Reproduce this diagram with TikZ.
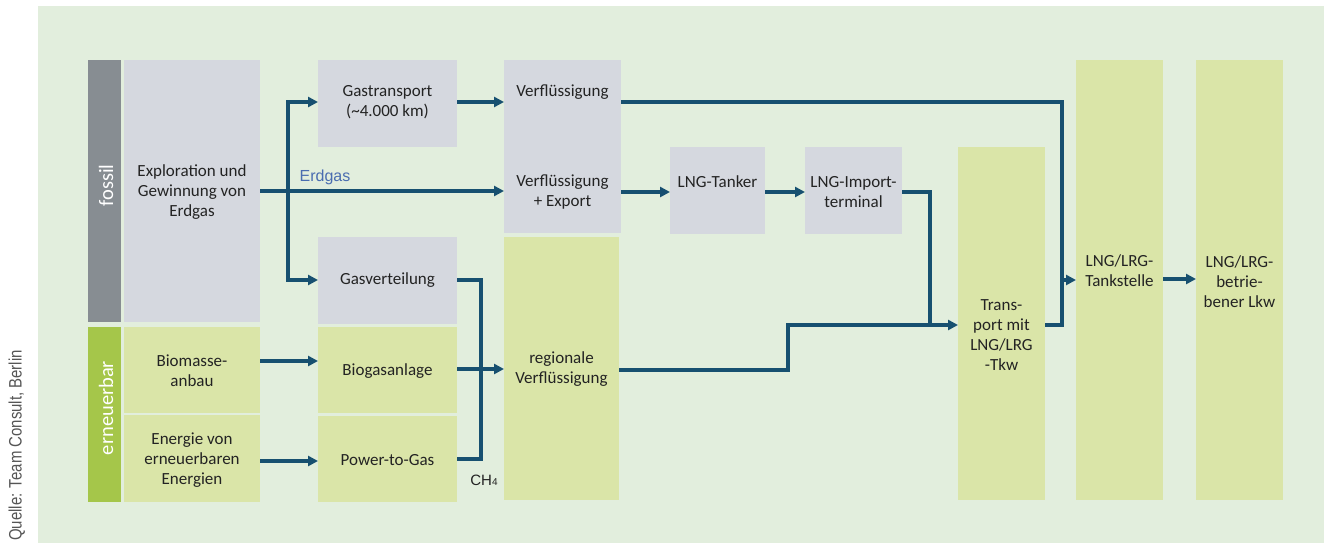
\documentclass[tikz,border=0pt]{standalone}
\usepackage{fontspec}
\setmainfont{Carlito}
\newfontfamily\arialfont{Liberation Sans}
\usetikzlibrary{arrows.meta}
\definecolor{panel}{RGB}{226,238,221}
\definecolor{greybox}{RGB}{213,216,223}
\definecolor{greenbox}{RGB}{218,229,168}
\definecolor{fossilbar}{RGB}{135,141,146}
\definecolor{renewbar}{RGB}{165,198,74}
\definecolor{flow}{RGB}{23,80,112}
\definecolor{txt}{RGB}{35,35,35}
\definecolor{erdgasblue}{RGB}{74,109,176}
\definecolor{srcgrey}{RGB}{85,85,85}
\begin{document}
\begin{tikzpicture}[x=1pt,y=-1pt,
  area/.style={fill=#1, draw=none, inner sep=0pt, outer sep=0pt},
  lbl/.style={inner sep=0pt, align=center, text=txt,
    font=\fontsize{17}{20}\selectfont},
  barlbl/.style={inner sep=0pt, rotate=90, anchor=base, text=white,
    font=\fontsize{20.5}{24}\selectfont},
  flowline/.style={draw=flow, line width=3.2pt},
  flowarrow/.style={flowline, -{Triangle[length=10pt,width=10pt]}}
]
\useasboundingbox (0,0) rectangle (1324,543);
\fill[panel] (38,6) rectangle (1324,543);

% source note
\node[rotate=90, anchor=base, inner sep=0pt, text=srcgrey,
  font=\arialfont\fontsize{18}{20}\selectfont] (src) at (21.5,445.5)
  {\scalebox{0.83}[1]{Quelle: Team Consult, Berlin}};

% category bars
\node[area=fossilbar, minimum width=33pt, minimum height=262pt] (fbar) at (104.5,191) {};
\node[area=renewbar, minimum width=33pt, minimum height=175pt] (rbar) at (104.5,414.5) {};
\node[barlbl] (fbar-t) at (113,185.5) {fossil};
\node[barlbl] (rbar-t) at (113,408) {erneuerbar};

% sources
\node[area=greybox, minimum width=136pt, minimum height=262pt] (expl) at (192,191) {};
\node[area=greenbox, minimum width=136pt, minimum height=86pt] (bio) at (192,370) {};
\node[area=greenbox, minimum width=136pt, minimum height=87pt] (ene) at (192,458.5) {};
\node[lbl] (expl-t) at (192,192) {Exploration und\\Gewinnung von\\Erdgas};
\node[lbl] (bio-t) at (192,371) {Biomasse-\\anbau};
\node[lbl] (ene-t) at (192,460) {Energie von\\erneuerbaren\\Energien};

% second column
\node[area=greybox, minimum width=139pt, minimum height=87pt] (gt) at (387.5,103.5) {};
\node[area=greybox, minimum width=139pt, minimum height=87pt] (gv) at (387.5,280.5) {};
\node[area=greenbox, minimum width=139pt, minimum height=86pt] (bga) at (387.5,370) {};
\node[area=greenbox, minimum width=139pt, minimum height=86pt] (ptg) at (387.5,459) {};
\node[lbl] (gt-t) at (387.5,102.5) {Gastransport\\(\textasciitilde4.000 km)};
\node[lbl] (gv-t) at (387.5,280) {Gasverteilung};
\node[lbl] (bga-t) at (387.5,371) {Biogasanlage};
\node[lbl] (ptg-t) at (387.5,460) {Power-to-Gas};

% liquefaction
\node[area=greybox, minimum width=117pt, minimum height=87pt] (vf) at (562.5,103.5) {};
\node[area=greybox, minimum width=117pt, minimum height=87pt] (vfe) at (562.5,189.5) {};
\node[area=greenbox, minimum width=115pt, minimum height=263pt] (rv) at (561.5,368.5) {};
\node[lbl] (vf-t) at (562.5,92) {Verflüssigung};
\node[lbl] (vfe-t) at (562.5,192) {Verflüssigung\\+ Export};
\node[lbl] (rv-t) at (561.5,369) {regionale\\Verflüssigung};

% LNG import chain
\node[area=greybox, minimum width=95pt, minimum height=87pt] (lt) at (717.5,190.5) {};
\node[area=greybox, minimum width=97pt, minimum height=87pt] (it) at (853.5,190.5) {};
\node[lbl] (lt-t) at (717.5,182) {LNG-Tanker};
\node[lbl] (it-t) at (853.5,192) {LNG-Import-\\terminal};

% distribution and use
\node[area=greenbox, minimum width=87pt, minimum height=353pt] (tr) at (1001.5,323.5) {};
\node[area=greenbox, minimum width=87pt, minimum height=440pt] (ts) at (1119.5,280) {};
\node[area=greenbox, minimum width=87pt, minimum height=440pt] (lkw) at (1239.5,280) {};
\node[lbl] (tr-t) at (1001.5,335) {Trans-\\port mit\\LNG/LRG\\-Tkw};
\node[lbl] (ts-t) at (1119.5,271) {LNG/LRG-\\Tankstelle};
\node[lbl] (lkw-t) at (1239.5,282) {LNG/LRG-\\betrie-\\bener Lkw};

% flow labels
\node[inner sep=0pt, text=erdgasblue, font=\arialfont\fontsize{16}{18}\selectfont]
  (erdgas) at (325,177) {Erdgas};
\node[inner sep=0pt, text=txt, font=\arialfont\fontsize{15}{18}\selectfont]
  (ch4) at (484,480) {CH{\fontsize{10}{12}\selectfont 4}};

% junction points
\coordinate (split) at (288,191);
\coordinate (tsjoin) at (1062,280);
\coordinate (trjoin) at (930,325);

% natural gas paths
\draw[flowline] (expl.east) -- (split);
\draw[flowarrow] (split) -- (split -| vfe.west);
\draw[flowarrow] (split) |- (gt.west |- 0,102);
\draw[flowarrow] (split) |- (gv.west |- 0,280);
\draw[flowarrow] (gt.east |- 0,102) -- (vf.west |- 0,102);
\draw[flowline] (vf.east |- 0,102) -| (tsjoin);
\draw[flowarrow] (vfe.east |- 0,192) -- (lt.west |- 0,192);
\draw[flowarrow] (lt.east |- 0,192) -- (it.west |- 0,192);
\draw[flowline] (it.east |- 0,192) -| (trjoin);
\draw[flowarrow] (rv.east |- 0,370) -- (788,370) |- (tr.west |- trjoin);
\draw[flowline] (tr.east |- trjoin) -| (tsjoin);
\draw[flowarrow] (tsjoin) -- (tsjoin -| ts.west);
\draw[flowarrow] (ts.east |- 0,279) -- (lkw.west |- 0,279);

% renewable and methane paths
\draw[flowarrow] (bio.east |- 0,361) -- (bga.west |- 0,361);
\draw[flowarrow] (ene.east |- 0,461) -- (ptg.west |- 0,461);
\draw[flowline] (gv.east |- 0,280) -| (481,459) -- (ptg.east |- 0,459);
\draw[flowarrow] (bga.east |- 0,369) -- (rv.west |- 0,369);
\end{tikzpicture}
\end{document}
